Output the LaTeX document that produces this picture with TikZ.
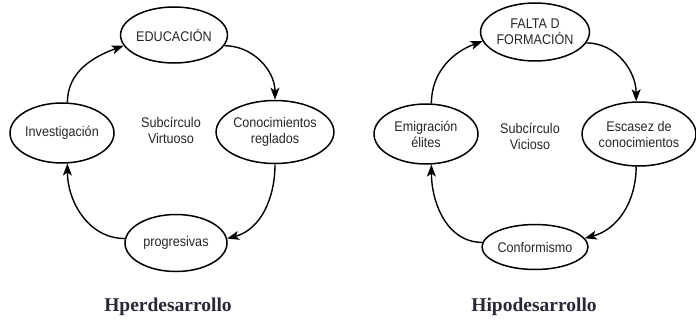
\documentclass[tikz,border=0pt]{standalone}
\usepackage{fontspec}
\setmainfont{Liberation Sans}
\newfontfamily\ovalfont[FakeStretch=0.9]{Liberation Sans}
\newfontfamily\titlefont{Liberation Serif}
\usetikzlibrary{shapes.geometric,arrows.meta}
\definecolor{titleink}{RGB}{40,40,56}
\tikzset{
	oval/.style={draw, ellipse, line width=1.5pt, inner sep=0pt, align=center, text=black!85, font=\ovalfont\fontsize{14}{16}\selectfont},
	cycle/.style={line width=1.4pt, -{Stealth[length=12pt,width=9pt,inset=3pt]}},
	middle/.style={align=center, text=black!85, font=\ovalfont\fontsize{14}{16}\selectfont},
	caption/.style={text=titleink, font=\titlefont\bfseries\fontsize{19.5}{22}\selectfont}
}

\begin{document}
\begin{tikzpicture}[x=1pt, y=1pt]
			%%%%% START %%%%%
			\useasboundingbox (0, 0) rectangle (696, -321);
			
			\node[oval, minimum width=104pt, minimum height=56pt] (edu) at (174, -35) {EDUCACIÓN};
			\node[oval, minimum width=95pt, minimum height=60pt] (inv) at (62, -133) {Investigación};
			\node[oval, minimum width=115pt, minimum height=63pt] (con) at (275, -132) {Conocimientos\\reglados};
			\node[oval, minimum width=102pt, minimum height=57pt] (pro) at (176, -243) {progresivas};
			\node[middle] (vir) at (171, -130) {Subcírculo\\Virtuoso};
			
			\draw[cycle] (inv.80) to[out=90, in=200] (edu.192);
			\draw[cycle] (edu.-12) to[out=0, in=90] (con.north);
			\draw[cycle] (con.south) to[out=-90, in=15] (pro.5);
			\draw[cycle] (pro.175) to[out=180, in=-90] (inv.-80);
			
			\node[caption] (hper) at (168, -307) {Hperdesarrollo};
			
			\node[oval, minimum width=106pt, minimum height=58pt] (fal) at (535, -32) {FALTA D\\FORMACIÓN};
			\node[oval, minimum width=104pt, minimum height=60pt] (emi) at (426, -134) {Emigración\\élites};
			\node[oval, minimum width=113pt, minimum height=64pt] (esc) at (639, -134) {Escasez de\\conocimientos};
			\node[oval, minimum width=100pt, minimum height=45pt] (conf) at (535, -247) {Conformismo};
			\node[middle] (vic) at (530, -136) {Subcírculo\\Vicioso};
			
			\draw[cycle] (emi.80) to[out=90, in=200] (fal.190);
			\draw[cycle] (fal.-12) to[out=0, in=90] (esc.95);
			\draw[cycle] (esc.-95) to[out=-90, in=15] (conf.10);
			\draw[cycle] (conf.175) to[out=180, in=-90] (emi.-80);
			
			\node[caption] (hipo) at (534, -307) {Hipodesarrollo};
			
			%%%%% END %%%%%
		\end{tikzpicture}
\end{document}
